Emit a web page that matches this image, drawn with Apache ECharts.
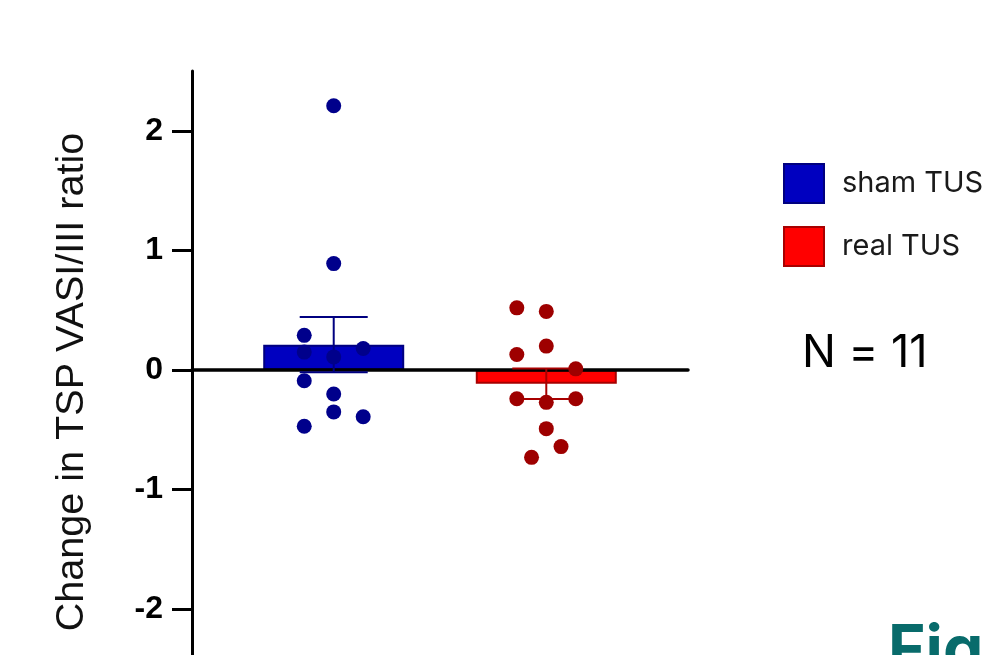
<!DOCTYPE html>
<html>
<head>
<meta charset="utf-8">
<title>Change in TSP VASI/III ratio</title>
<script src="https://cdn.jsdelivr.net/npm/echarts@6/dist/echarts.min.js"></script>
<style>
  html, body { margin: 0; padding: 0; background: #fff; }
  #chart { width: 985px; height: 655px; }
</style>
</head>
<body>
<div id="chart"></div>
<script>
// data
const categories = ['sham TUS', 'real TUS'];
const shamValues = [2.21, 0.89, 0.29, 0.15, 0.11, 0.18, -0.09, -0.20, -0.35, -0.39, -0.47];
const realValues = [0.52, 0.49, 0.13, 0.20, 0.01, -0.24, -0.27, -0.24, -0.49, -0.64, -0.73];
const yTicks = [-2, -1, 0, 1, 2];

// scatter column slot of each point (beeswarm layout), not data
const shamSlots = [0, 0, -1, -1, 0, 1, -1, 0, 0, 1, -1];
const realSlots = [-1, 0, -1, 0, 1, -1, 0, 1, 0, 0.5, -0.5];
const groupX = [1, 2.5];
const slotStep = 0.208;

const mean = (arr) => arr.reduce((a, b) => a + b, 0) / arr.length;
const sem = (arr) => {
  const m = mean(arr);
  const v = arr.reduce((a, b) => a + (b - m) * (b - m), 0) / (arr.length - 1);
  return Math.sqrt(v) / Math.sqrt(arr.length);
};

const groups = [
  { name: categories[0], values: shamValues, slots: shamSlots, fill: '#0000C0', edge: '#000080', dot: '#00008B' },
  { name: categories[1], values: realValues, slots: realSlots, fill: '#FF0000', edge: '#A80000', dot: '#9E0000' },
];

const chart = echarts.init(document.getElementById('chart'));

const series = [];
groups.forEach((g, gi) => {
  const m = mean(g.values);
  const s = sem(g.values);
  series.push({
    name: g.name,
    type: 'bar',
    z: 2,
    barWidth: 141,
    barGap: '-100%',
    data: [[groupX[gi], m]],
    itemStyle: { color: g.fill, borderColor: g.edge, borderWidth: 2 },
    silent: true,
  });
  series.push({
    name: g.name + ' sem',
    type: 'custom',
    z: 4,
    data: [[groupX[gi], m - s, m + s]],
    renderItem: (params, api) => {
      const lo = api.coord([api.value(0), api.value(1)]);
      const hi = api.coord([api.value(0), api.value(2)]);
      const half = 34;
      const style = { stroke: g.edge, lineWidth: 2 };
      return {
        type: 'group',
        children: [
          { type: 'line', shape: { x1: lo[0], y1: lo[1], x2: hi[0], y2: hi[1] }, style },
          { type: 'line', shape: { x1: hi[0] - half, y1: hi[1], x2: hi[0] + half, y2: hi[1] }, style },
          { type: 'line', shape: { x1: lo[0] - half, y1: lo[1], x2: lo[0] + half, y2: lo[1] }, style },
        ],
      };
    },
    silent: true,
  });
  series.push({
    name: g.name + ' points',
    type: 'scatter',
    z: 5,
    symbolSize: 15,
    data: g.values.map((v, i) => [groupX[gi] + g.slots[i] * slotStep, v]),
    itemStyle: { color: g.dot, opacity: 1 },
    silent: true,
  });
});

const option = {
  animation: false,
  backgroundColor: '#fff',
  grid: { left: 192, right: 297, top: 71, bottom: -38, outerBoundsMode: 'none' },
  legend: {
    data: categories,
    orient: 'vertical',
    left: 778,
    top: 158,
    icon: 'rect',
    itemWidth: 40,
    itemHeight: 39,
    itemGap: 22,
    selectedMode: false,
    textStyle: {
      fontFamily: 'Inter',
      fontSize: 29,
      color: '#1a1a1a',
      padding: [0, 0, 0, 13],
    },
  },
  xAxis: {
    type: 'value',
    min: 0,
    max: 3.5,
    z: 3,
    splitLine: { show: false },
    axisTick: { show: false },
    axisLabel: { show: false },
    axisLine: { show: true, onZero: true, lineStyle: { color: '#000', width: 3.5 } },
  },
  yAxis: {
    type: 'value',
    min: -2.7,
    max: 2.5,
    z: 3,
    name: 'Change in TSP VASI/III ratio',
    nameLocation: 'middle',
    nameGap: 100,
    nameTextStyle: { fontFamily: 'Liberation Sans', fontSize: 39.6, color: '#111' },
    splitLine: { show: false },
    axisLine: { show: true, lineStyle: { color: '#000', width: 3 } },
    axisTick: { show: true, length: 20, customValues: yTicks, lineStyle: { color: '#000', width: 3 } },
    axisLabel: {
      customValues: yTicks,
      margin: 29,
      fontFamily: 'Liberation Sans',
      fontWeight: 'bold',
      fontSize: 32,
      color: '#000',
    },
  },
  graphic: [
    {
      type: 'text',
      left: 802,
      top: 331,
      style: { text: 'N = 11', fontFamily: 'Inter', fontSize: 45, fill: '#000' },
    },
    {
      type: 'text',
      left: 888,
      top: 620,
      style: { text: 'Fig', fontFamily: 'Inter', fontWeight: 'bold', fontSize: 64, fill: '#086B6B' },
    },
  ],
  series,
};

chart.setOption(option);
</script>
</body>
</html>
